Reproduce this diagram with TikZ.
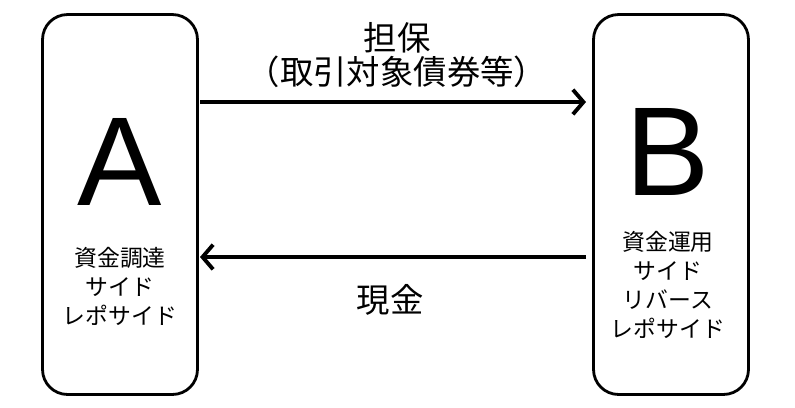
\documentclass[tikz,border=0pt]{standalone}
\usepackage{fontspec}
\setmainfont{Liberation Sans}
\newfontfamily\cjk{Noto Sans CJK JP}
\usetikzlibrary{arrows.meta}
\begin{document}
\begin{tikzpicture}[x=0.02cm,y=-0.02cm,
    side/.style={draw, line width=1.6pt, rounded corners=0.5cm, minimum width=3.1cm, minimum height=7.6cm},
    flow/.style={line width=2.2pt, -{Straight Barb[length=6pt,width=14pt,line width=2.2pt]}},
    big/.style={font=\fontsize{72}{72}\selectfont},
    small/.style={font=\cjk\fontsize{13}{16.5}\selectfont, align=center},
    label/.style={font=\cjk\fontsize{19}{19}\selectfont, align=center}]
    \useasboundingbox (0,0) rectangle (795,407);
    \node [side] (boxA) at (120,204.5) {};
    \node [side] (boxB) at (671,204.5) {};
    \node [big] (A) at (120,162) {A};
    \node [big] (B) at (668,152) {B};
    \node [small] (sideA) at (120,286) {資金調達\\サイド\\レポサイド};
    \node [small] (sideB) at (668,285) {資金運用\\サイド\\リバース\\レポサイド};
    \coordinate (a1) at (200,102);
    \coordinate (b1) at (586,102);
    \coordinate (a2) at (200,257);
    \coordinate (b2) at (586,257);
    \draw [flow] (a1) -- (b1);
    \draw [flow] (b2) -- (a2);
    \node [label] (collateral) at (397,38) {担保};
    \node [label] (bonds) at (397,72) {（取引対象債券等）};
    \node [label] (cash) at (390,300) {現金};
\end{tikzpicture}
\end{document}
